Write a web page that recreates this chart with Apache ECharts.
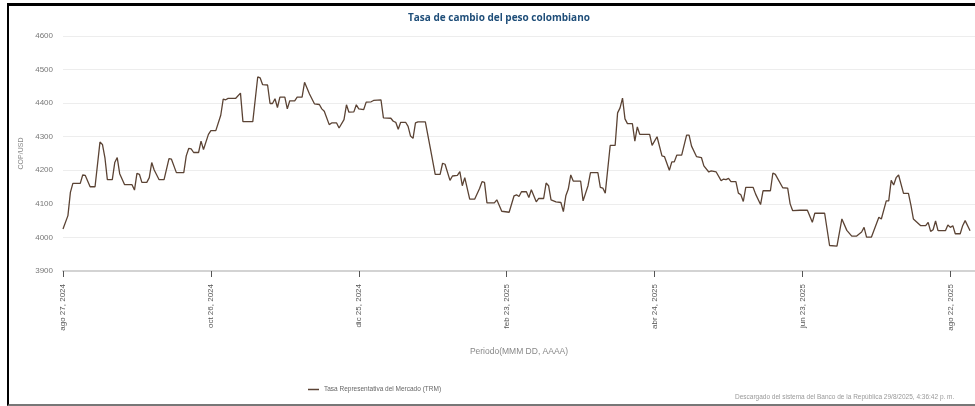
<!DOCTYPE html>
<html>
<head>
<meta charset="utf-8">
<script src="https://cdn.jsdelivr.net/npm/echarts@6/dist/echarts.min.js"></script>
<style>
  html, body { margin: 0; padding: 0; background: #fff; overflow: hidden; }
  #chart { position: absolute; left: 0; top: 0; width: 975px; height: 406px; }
  /* marco negro del recorte */
  #marco {
    position: absolute; left: 7px; top: 3px; width: 966px; height: 398px;
    border-left: 2px solid #000; border-top: 3px solid #000; border-bottom: 2px solid #777;
    pointer-events: none;
  }
</style>
</head>
<body>
<div id="chart"></div>
<div id="marco"></div>
<script>
// fechas y TRM (COP/USD)
const fechas = [
  '2024-08-27', '2024-08-29', '2024-08-30', '2024-08-31', '2024-09-03', '2024-09-04', '2024-09-05', '2024-09-07',
  '2024-09-09', '2024-09-11', '2024-09-12', '2024-09-13', '2024-09-14', '2024-09-16', '2024-09-17', '2024-09-18',
  '2024-09-19', '2024-09-21', '2024-09-24', '2024-09-25', '2024-09-26', '2024-09-27', '2024-09-28', '2024-09-30',
  '2024-10-01', '2024-10-02', '2024-10-03', '2024-10-05', '2024-10-07', '2024-10-09', '2024-10-10', '2024-10-12',
  '2024-10-15', '2024-10-16', '2024-10-17', '2024-10-18', '2024-10-19', '2024-10-21', '2024-10-22', '2024-10-23',
  '2024-10-25', '2024-10-26', '2024-10-28', '2024-10-30', '2024-10-31', '2024-11-01', '2024-11-02', '2024-11-05',
  '2024-11-07', '2024-11-08', '2024-11-12', '2024-11-14', '2024-11-15', '2024-11-16', '2024-11-18', '2024-11-19',
  '2024-11-20', '2024-11-21', '2024-11-22', '2024-11-23', '2024-11-25', '2024-11-26', '2024-11-27', '2024-11-29',
  '2024-11-30', '2024-12-02', '2024-12-03', '2024-12-05', '2024-12-07', '2024-12-09', '2024-12-10', '2024-12-11',
  '2024-12-13', '2024-12-14', '2024-12-16', '2024-12-17', '2024-12-19', '2024-12-20', '2024-12-21', '2024-12-23',
  '2024-12-24', '2024-12-25', '2024-12-27', '2024-12-28', '2024-12-30', '2024-12-31', '2025-01-03', '2025-01-04',
  '2025-01-07', '2025-01-08', '2025-01-09', '2025-01-10', '2025-01-11', '2025-01-13', '2025-01-14', '2025-01-15',
  '2025-01-16', '2025-01-17', '2025-01-18', '2025-01-21', '2025-01-23', '2025-01-25', '2025-01-27', '2025-01-28',
  '2025-01-29', '2025-01-31', '2025-02-01', '2025-02-03', '2025-02-04', '2025-02-05', '2025-02-06', '2025-02-08',
  '2025-02-10', '2025-02-12', '2025-02-13', '2025-02-14', '2025-02-15', '2025-02-18', '2025-02-19', '2025-02-21',
  '2025-02-24', '2025-02-26', '2025-02-27', '2025-02-28', '2025-03-01', '2025-03-03', '2025-03-04', '2025-03-05',
  '2025-03-07', '2025-03-08', '2025-03-10', '2025-03-11', '2025-03-12', '2025-03-13', '2025-03-15', '2025-03-17',
  '2025-03-18', '2025-03-19', '2025-03-20', '2025-03-21', '2025-03-22', '2025-03-25', '2025-03-26', '2025-03-28',
  '2025-03-29', '2025-04-01', '2025-04-02', '2025-04-03', '2025-04-04', '2025-04-06', '2025-04-08', '2025-04-09',
  '2025-04-10', '2025-04-11', '2025-04-12', '2025-04-13', '2025-04-15', '2025-04-16', '2025-04-17', '2025-04-18',
  '2025-04-22', '2025-04-23', '2025-04-25', '2025-04-27', '2025-04-28', '2025-04-30', '2025-05-01', '2025-05-02',
  '2025-05-03', '2025-05-05', '2025-05-07', '2025-05-08', '2025-05-09', '2025-05-11', '2025-05-13', '2025-05-14',
  '2025-05-16', '2025-05-17', '2025-05-19', '2025-05-21', '2025-05-22', '2025-05-23', '2025-05-24', '2025-05-25',
  '2025-05-27', '2025-05-28', '2025-05-29', '2025-05-30', '2025-05-31', '2025-06-03', '2025-06-04', '2025-06-06',
  '2025-06-07', '2025-06-10', '2025-06-11', '2025-06-12', '2025-06-15', '2025-06-17', '2025-06-18', '2025-06-19',
  '2025-06-22', '2025-06-25', '2025-06-27', '2025-06-28', '2025-07-02', '2025-07-04', '2025-07-07', '2025-07-09',
  '2025-07-11', '2025-07-13', '2025-07-15', '2025-07-17', '2025-07-18', '2025-07-19', '2025-07-21', '2025-07-24',
  '2025-07-25', '2025-07-27', '2025-07-28', '2025-07-29', '2025-07-30', '2025-07-31', '2025-08-01', '2025-08-03',
  '2025-08-05', '2025-08-06', '2025-08-07', '2025-08-10', '2025-08-12', '2025-08-13', '2025-08-14', '2025-08-15',
  '2025-08-16', '2025-08-17', '2025-08-20', '2025-08-21', '2025-08-22', '2025-08-23', '2025-08-24', '2025-08-26',
  '2025-08-27', '2025-08-28', '2025-08-30'
];
const trm = [
  4025, 4065, 4134, 4161, 4161, 4186, 4185, 4151,
  4151, 4284, 4277, 4238, 4172, 4172, 4223, 4238,
  4190, 4157, 4157, 4141, 4191, 4188, 4164, 4164,
  4178, 4223, 4201, 4172, 4172, 4235, 4233, 4193,
  4193, 4243, 4265, 4264, 4253, 4253, 4287, 4262,
  4307, 4318, 4318, 4364, 4412, 4410, 4414, 4414,
  4430, 4345, 4345, 4478, 4475, 4455, 4454, 4399,
  4399, 4413, 4387, 4418, 4418, 4383, 4407, 4407,
  4418, 4418, 4462, 4427, 4398, 4396, 4383, 4376,
  4336, 4341, 4341, 4326, 4351, 4395, 4373, 4374,
  4395, 4383, 4381, 4403, 4404, 4408, 4410, 4356,
  4355, 4346, 4343, 4322, 4343, 4343, 4331, 4302,
  4295, 4341, 4344, 4344, 4267, 4188, 4188, 4221,
  4218, 4170, 4183, 4185, 4196, 4154, 4178, 4114,
  4114, 4146, 4166, 4164, 4103, 4103, 4112, 4078,
  4075, 4124, 4127, 4122, 4136, 4136, 4119, 4142,
  4106, 4116, 4116, 4162, 4154, 4112, 4106, 4104,
  4077, 4124, 4144, 4186, 4168, 4168, 4109, 4154,
  4193, 4193, 4149, 4147, 4132, 4274, 4274, 4371,
  4386, 4415, 4353, 4339, 4339, 4287, 4329, 4307,
  4307, 4274, 4300, 4243, 4241, 4200, 4225, 4225,
  4245, 4245, 4305, 4305, 4272, 4241, 4238, 4213,
  4195, 4198, 4195, 4169, 4174, 4172, 4176, 4166,
  4166, 4132, 4127, 4107, 4149, 4149, 4129, 4098,
  4139, 4139, 4192, 4188, 4148, 4147, 4100, 4080,
  4081, 4081, 4045, 4072, 4072, 3976, 3974, 4055,
  4021, 4004, 4004, 4016, 4030, 4001, 4001, 4060,
  4055, 4109, 4109, 4170, 4156, 4178, 4186, 4131,
  4131, 4096, 4055, 4035, 4035, 4045, 4018, 4023,
  4049, 4020, 4020, 4037, 4030, 4035, 4011, 4011,
  4035, 4050, 4020
];
// ticks del eje x en dias desde ago 27, 2024 (cada 60 dias)
const fechaInicio = '2024-08-27';
const xTicks = [0, 60, 120, 180, 240, 300, 360];
const meses = ['ene', 'feb', 'mar', 'abr', 'may', 'jun', 'jul', 'ago', 'sep', 'oct', 'nov', 'dic'];
const yTicks = [3900, 4000, 4100, 4200, 4300, 4400, 4500, 4600];

const DIA = 86400000;
const base = Date.parse(fechaInicio);
// x = dias desde la fecha inicial
const puntos = fechas.map((f, i) => [(Date.parse(f) - base) / DIA, trm[i]]);

function etiquetaFecha(v) {
  const d = new Date(base + v * DIA);
  return meses[d.getUTCMonth()] + ' ' + d.getUTCDate() + ', ' + d.getUTCFullYear();
}

const myChart = echarts.init(document.getElementById('chart'));
const option = {
  backgroundColor: '#fff',
  animation: false,
  title: {
    text: 'Tasa de cambio del peso colombiano',
    left: 403,
    top: 8,
    textStyle: { color: '#1f4e79', fontSize: 10, fontWeight: 'bold', fontFamily: 'Open Sans' },
  },
  legend: {
    data: ['Tasa Representativa del Mercado (TRM)'],
    left: 303,
    top: 381,
    icon: 'rect',
    itemWidth: 11,
    itemHeight: 1.5,
    itemGap: 10,
    textStyle: { color: '#666', fontSize: 6.5, fontFamily: 'Liberation Sans' },
  },
  grid: {
    left: 63,
    right: 0,
    top: 36,
    bottom: 135,
  },
  xAxis: {
    type: 'value',
    min: 0,
    max: 370,
    name: 'Periodo(MMM DD, AAAA)',
    nameLocation: 'middle',
    nameGap: 76,
    nameTextStyle: { color: '#888', fontSize: 8.5, fontFamily: 'Liberation Sans' },
    splitLine: { show: false },
    axisLine: { lineStyle: { color: '#d3d3d3', width: 2 } },
    axisTick: { show: true, customValues: xTicks, length: 6, lineStyle: { color: '#555', width: 1 } },
    axisLabel: {
      customValues: xTicks,
      rotate: 90,
      margin: 13,
      color: '#555',
      fontSize: 8,
      fontFamily: 'Liberation Sans',
      formatter: etiquetaFecha,
    },
  },
  yAxis: {
    type: 'value',
    min: yTicks[0],
    max: yTicks[yTicks.length - 1],
    interval: 100,
    name: 'COP/USD',
    nameLocation: 'middle',
    nameGap: 34,
    nameTextStyle: { color: '#888', fontSize: 7, fontFamily: 'Liberation Sans' },
    axisLine: { show: false },
    axisTick: { show: false },
    splitLine: { lineStyle: { color: '#ededed', width: 1 } },
    axisLabel: {
      color: '#777',
      fontSize: 8,
      margin: 10,
      fontFamily: 'Liberation Sans',
      formatter: (v) => String(v),
    },
  },
  graphic: [
    {
      type: 'text',
      left: 735,
      top: 394,
      style: {
        text: 'Descargado del sistema del Banco de la República 29/8/2025, 4:36:42 p. m.',
        fill: '#999',
        font: '6.5px "Liberation Sans"',
      },
    },
  ],
  series: [
    {
      name: 'Tasa Representativa del Mercado (TRM)',
      type: 'line',
      data: puntos,
      showSymbol: false,
      symbol: 'none',
      lineStyle: { color: '#5b4334', width: 1.3 },
      itemStyle: { color: '#5b4334' },
    },
  ],
};
myChart.setOption(option);
</script>
</body>
</html>
